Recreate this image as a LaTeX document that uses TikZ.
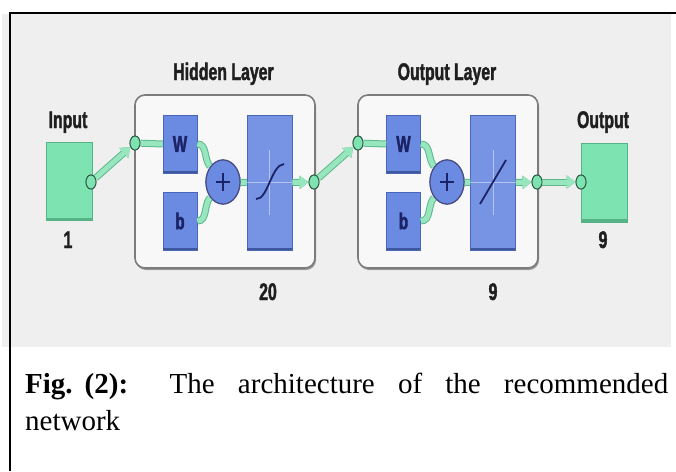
\documentclass[tikz,border=0pt]{standalone}
\usepackage{fontspec}
\setmainfont{Liberation Serif}
\newfontfamily\labfont[FakeStretch=0.66, BoldFeatures={FakeBold=1.6}]{Liberation Sans}
\usetikzlibrary{arrows.meta,shapes.geometric,shadows}
\definecolor{bgpanel}{HTML}{EFEFEF}
\definecolor{mint}{HTML}{7DE3B0}
\definecolor{mintdark}{HTML}{55B386}
\definecolor{linkfill}{HTML}{98E6BE}
\definecolor{linkedge}{HTML}{5DB98D}
\definecolor{portedge}{HTML}{2F5A45}
\definecolor{bluebox}{HTML}{6B8BE2}
\definecolor{blueedge}{HTML}{4A66B8}
\definecolor{navy}{HTML}{1B2266}
\definecolor{layerfill}{HTML}{F8F8F8}
\definecolor{layeredge}{HTML}{7C7C7C}
\tikzset{
  layerbox/.style={draw=layeredge, line width=1.6pt, fill=layerfill, rounded corners=10pt,
    inner sep=0pt, minimum width=180pt, minimum height=173pt,
    drop shadow={shadow xshift=1pt, shadow yshift=-2pt, fill=black!55, opacity=0.7}},
  wbox/.style={fill=bluebox, draw=blueedge, line width=0.6pt, inner sep=0pt,
    minimum width=34pt, minimum height=58pt, text=navy,
    font=\labfont\bfseries\fontsize{23}{26}\selectfont},
  tbox/.style={fill=bluebox!92!white, draw=blueedge, line width=0.6pt, inner sep=0pt,
    minimum width=45pt, minimum height=135pt},
  iobox/.style={fill=mint, draw=mintdark, line width=0.6pt, inner sep=0pt,
    minimum width=46pt, minimum height=78pt},
  sumnode/.style={ellipse, fill=bluebox, draw=navy!80, line width=1.2pt, inner sep=0pt,
    minimum width=34pt, minimum height=44pt},
  port/.style={ellipse, fill=mint, draw=portedge, line width=0.9pt, inner sep=0pt,
    minimum width=10pt, minimum height=14pt},
  link/.style={draw=linkfill, line width=5pt,
    preaction={draw=linkedge, line width=7pt}},
  tipped/.style={-{Triangle[length=9pt,width=13pt,fill=linkfill]}},
  lab/.style={font=\labfont\bfseries\fontsize{24}{28}\selectfont, text=black!88, inner sep=0pt, anchor=base},
  capfont/.style={font=\fontsize{29}{36}\selectfont, inner sep=0pt, anchor=base west}
}
\begin{document}
\begin{tikzpicture}[x=1pt, y=-1pt]
\useasboundingbox (0,0) rectangle (676,471);
% panel and frame
\fill[bgpanel] (2,14) rectangle (671,347);
\draw[line width=2pt] (9.5,471) -- (9.5,13) -- (676,13);

% layer boxes
\node[layerbox] (hid) at (225,181.5) {};
\node[layerbox] (outl) at (448,181.5) {};

% input and output
\node[iobox] (inbox) at (69,181.5) {};
\draw[mintdark, line width=3pt] (inbox.south west) ++(0,-1.5) -- ++(46,0);
\node[iobox, minimum height=79pt] (outbox) at (604,182.5) {};
\draw[mintdark, line width=3pt] (outbox.south west) ++(0,-1.5) -- ++(46,0);

% layer contents
\node[wbox] (W1) at (180,144) {W};
\node[wbox] (b1) at (180,221) {b};
\node[tbox] (T1) at (269.5,182.5) {};
\node[wbox] (W2) at (403.5,144) {W};
\node[wbox] (b2) at (403.5,221) {b};
\node[tbox] (T2) at (493,182.5) {};
\foreach \n in {W1,b1,W2,b2,T1,T2}{
  \draw[blueedge!85!black, line width=2.4pt] (\n.south west) ++(0.6,-1.2) -- ([xshift=-0.6pt,yshift=1.2pt]\n.south east);
}

% transfer function drawings
\draw[white, opacity=0.45, line width=0.8pt] (T1.west |- 0,182) -- (T1.east |- 0,182)
  (269.5,150) -- (269.5,215);
\draw[navy, line width=1.8pt] (256,199) .. controls (268,200) and (271,165) .. (284,164);
\draw[white, opacity=0.45, line width=0.8pt] (T2.west |- 0,182) -- (T2.east |- 0,182)
  (493,150) -- (493,215);
\draw[navy, line width=1.8pt] (480,204) -- (506,160);

% port positions
\coordinate (pin) at (91,182);
\coordinate (hin) at (135,143);
\coordinate (hout) at (314,182);
\coordinate (oin) at (358,143);
\coordinate (oout) at (537,182);
\coordinate (outin) at (581,182);

% sum nodes
\node[sumnode] (S1) at (223,182) {};
\node[sumnode] (S2) at (447,182) {};

% links
\draw[link] (W1.east) to[out=0, in=130] (S1);
\draw[link] (b1.east) to[out=0, in=-130] (S1);
\draw[link] (S1) -- (T1.west);
\draw[link] (W2.east) to[out=0, in=130] (S2);
\draw[link] (b2.east) to[out=0, in=-130] (S2);
\draw[link] (S2) -- (T2.west);

\node[port] (P0) at (pin) {};
\node[port] (P1) at (hin) {};
\node[port] (P2) at (hout) {};
\node[port] (P3) at (oin) {};
\node[port] (P4) at (oout) {};
\node[port] (P5) at (outin) {};

\draw[link, tipped] (P0) -- (P1);
\draw[link] (P1) -- (W1.west);
\draw[link, tipped] (T1.east) -- (P2);
\draw[link, tipped] (P2) -- (P3);
\draw[link] (P3) -- (W2.west);
\draw[link, tipped] (T2.east) -- (P4);
\draw[link, tipped] (P4) -- (P5);

% ports on top
\foreach \p in {P0,P1,P2,P3,P4,P5}{
  \node[port] at (\p) {};
}
% sum nodes on top with plus
\foreach \s in {S1,S2}{
  \node[sumnode] at (\s) {};
  \draw[navy, line width=2.4pt] ([xshift=-7pt]\s.center) -- ([xshift=7pt]\s.center)
    ([yshift=-9pt]\s.center) -- ([yshift=9pt]\s.center);
}

% labels
\node[lab] (tHid) at (223.5,80) {Hidden Layer};
\node[lab] (tOut) at (447,80) {Output Layer};
\node[lab] (tIn) at (68,128) {Input};
\node[lab] (tOutput) at (603,128) {Output};
\node[lab] (n1) at (68,248) {1};
\node[lab] (n20) at (268,300) {20};
\node[lab] (n9a) at (493,300) {9};
\node[lab] (n9b) at (603,248) {9};

% caption
\node[capfont] (cap1) at (25,393) {\makebox[643pt][s]{\textbf{Fig.}\hspace{12pt}\textbf{(2):} The architecture of the recommended}};
\node[capfont] (cap2) at (25,430) {network};
\end{tikzpicture}
\end{document}
